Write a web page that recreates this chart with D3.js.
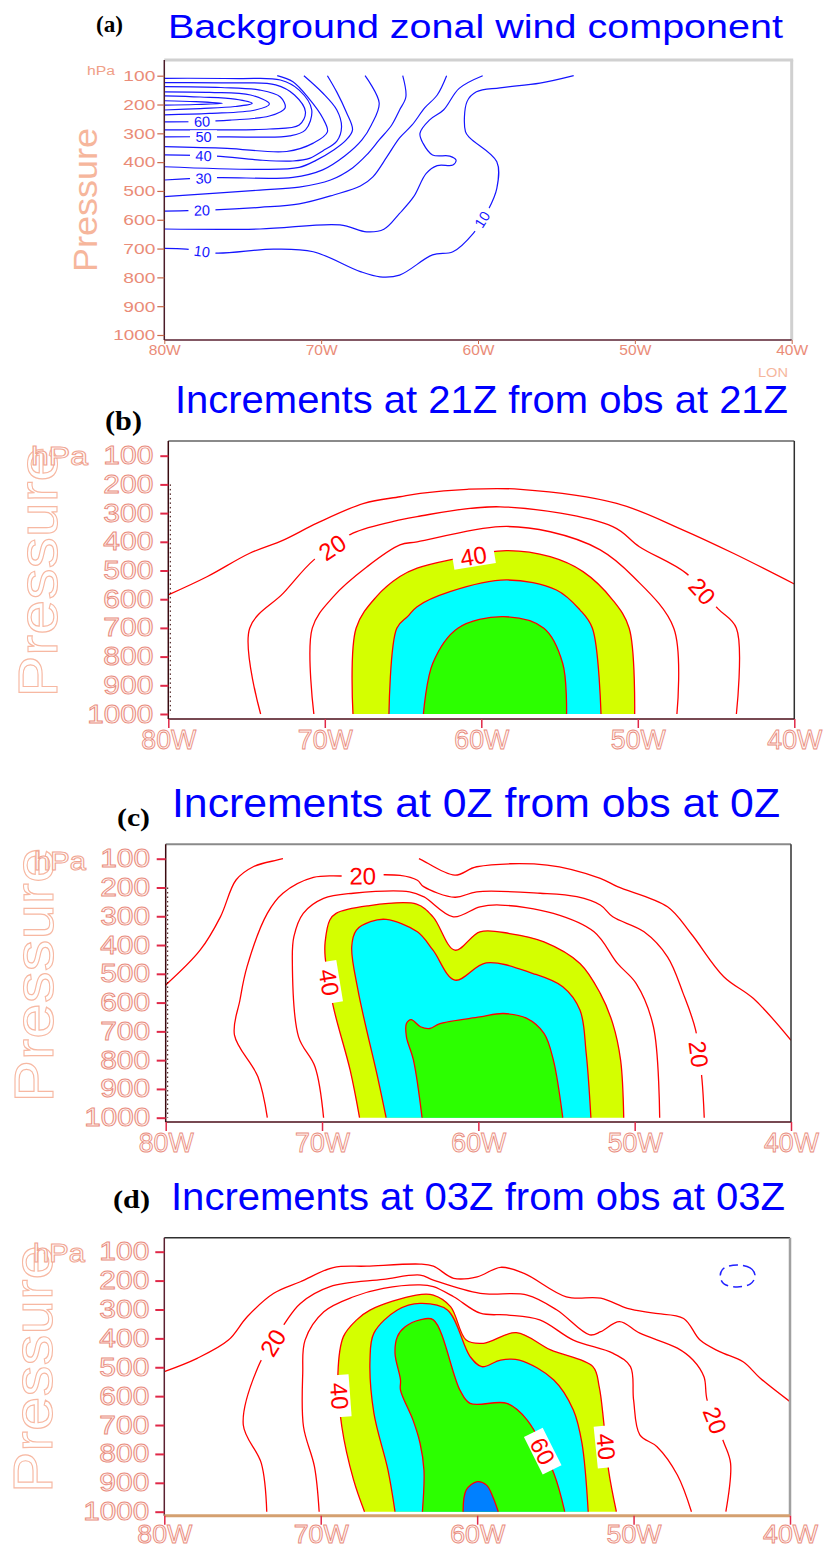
<!DOCTYPE html>
<html><head><meta charset="utf-8">
<script src="https://cdn.jsdelivr.net/npm/d3@7"></script>
<style>body{margin:0;background:#fff}svg{display:block}</style>
</head><body>
<svg id="chart" width="826" height="1549"></svg>
<script>
// ---------------- DATA ----------------
const lonTicks = [80, 70, 60, 50, 40];           // degrees West
const pTicks = [100, 200, 300, 400, 500, 600, 700, 800, 900, 1000]; // hPa
const titles = ["Background zonal wind component", "Increments at 21Z from obs at 21Z",
                "Increments at 0Z from obs at 0Z", "Increments at 03Z from obs at 03Z"];
const panelTags = ["(a)", "(b)", "(c)", "(d)"];
const fillLevels = [40, 50, 60, 70];

// (a) background zonal wind, contour lines [lonW, hPa]
const windA = [
  {v:75, pts:[[80,187],[78.0,190],[76.3,196],[78.0,200],[80,202]]},
  {v:70, pts:[[80,170],[77.7,174],[75.5,181],[74.4,196],[75.5,207],[77.7,214],[80,219]]},
  {v:65, pts:[[80,156],[77.1,158],[74.5,167],[73.3,198],[74.2,219],[77.1,231],[80,236]]},
  {v:60, pts:[[80,138],[76.4,141],[73.9,150],[72.6,174],[72.3,212],[73.3,240],[75.8,254],[77.7,259],[80,260]]},
  {v:55, pts:[[80,124],[75.8,125],[72.9,132],[71.7,167],[71.0,226],[71.4,271],[73.3,285],[76.4,288],[80,288]]},
  {v:50, pts:[[80,109],[75.2,110],[72.6,115],[71.4,150],[70.6,219],[71.0,288],[72.0,309],[74.5,313],[76.8,312],[80,312]]},
  {v:45, pts:[[72.8,100],[71.8,121],[70.8,178],[69.9,247],[69.6,295],[70.5,334],[72.2,363],[76.0,352],[80,346]]},
  {v:40, pts:[[71.1,100],[69.9,160],[69.0,219],[68.7,278],[69.0,327],[69.9,361],[70.7,386],[71.8,396],[73.9,393],[76.7,379],[80,375]]},
  {v:35, pts:[[69.6,100],[69.0,157],[68.4,226],[68.0,288],[68.4,323],[69.2,358],[70.3,393],[71.4,418],[73.9,425],[80,416]]},
  {v:30, pts:[[67.2,100],[66.3,195],[66.8,271],[67.4,323],[68.5,379],[69.9,427],[71.8,453],[76.7,454],[80,462]]},
  {v:25, pts:[[64.8,100],[64.6,174],[65.0,219],[65.5,271],[66.3,323],[67.1,375],[68.0,420],[69.4,462],[71.4,487],[73.9,497],[80,520]]},
  {v:20, pts:[[62.0,100],[62.6,167],[63.4,212],[64.2,271],[65.0,316],[65.8,381],[66.7,451],[67.5,483],[69.2,514],[71.4,545],[73.9,557],[76.8,566],[80,570]]},
  {v:15, pts:[[59.7,100],[61.2,144],[62.2,219],[63.1,254],[63.7,300],[63.5,335],[62.9,375],[61.8,379],[61.4,393],[61.6,410],[62.6,412],[63.3,439],[64.1,520],[65.0,578],[66.0,633],[67.1,642],[68.8,618],[73.9,632],[80,632]]},
  {v:10, pts:[[80,699],[78.6,702],[76.7,716],[73.05,702],[70.5,711],[67.5,780],[66.25,798],[65.0,792],[62.9,722],[61.6,711],[60.3,647],[59.35,566],[58.8,491],[58.8,399],[60.5,317],[60.8,294],[60.7,190],[60.1,156],[58.6,142],[56.05,126],[53.9,100]]}
];
const labelsA = [[60,77.6,258],[50,77.5,312],[40,77.5,378],[30,77.5,456],[20,77.6,568],[10,77.6,712],[10,59.6,604]];

// (b) increments at 21Z
const incB = [
  {v:10, pts:[[80,585],[77.5,521],[74.8,440],[72.65,394],[70.5,335],[67.5,266],[65.2,243],[63.9,231],[60.9,217],[57.5,217],[51.35,266],[47.1,359],[43.9,440],[40,547]]},
  {v:20, pts:[[74.1,1000],[74.8,701],[72.65,579],[70.7,463],[68.2,370],[65.2,324],[64.1,312],[58.8,278],[51.6,347],[49.9,417],[46.9,510],[44.9,632],[43.7,701],[43.7,1000]]},
  {v:30, pts:[[70.7,1000],[70.8,701],[69.45,591],[67.3,487],[65.2,411],[64.1,400],[58.8,347],[55.6,365],[52.4,428],[50.3,521],[47.7,701],[47.5,1000]]},
  {v:40, pts:[[68.2,1000],[68.0,701],[66.7,591],[65.2,521],[64.1,492],[62,463],[58.4,431],[55.6,452],[53.5,504],[51.6,603],[50.55,701],[50.2,1000]]},
  {v:50, pts:[[65.9,1000],[65.4,701],[64.7,660],[64.1,626],[62,574],[58.4,533],[55.2,568],[53.7,637],[52.9,701],[52.35,1000]]},
  {v:60, pts:[[63.7,1000],[63.1,823],[61.5,701],[58.6,661],[56.0,701],[54.8,823],[54.55,1000]]}
];
const labelsB = [[20,69.5,421],[40,60.5,450],[20,45.9,573]];

// (c) increments at 0Z
const incC = [
  {v:10, pts:[[80,539],[77.8,418],[76.5,302],[75.5,174],[74.4,128],[72.9,105],[72.5,100]]},
  {v:10, pts:[[63.8,100],[63.6,105],[61.5,157],[60.1,128],[55.6,122],[52.2,168],[51.1,197],[47.9,267],[46.4,360],[44.3,510],[42.4,586],[40,731]]},
  {v:20, pts:[[73.5,1000],[74.1,858],[75.6,713],[75.25,591],[74.8,476],[73.5,290],[72.5,220],[70.55,165],[68.6,160],[65.0,158],[63.9,175],[63.5,197],[61.5,234],[60.1,215],[56.05,220],[53.7,232],[52.2,261],[51.4,302],[49.4,354],[47.9,441],[46.9,568],[46.1,696],[45.7,864],[45.55,1000]]},
  {v:30, pts:[[69.9,1000],[70.45,823],[71.5,719],[71.9,452],[71.8,371],[71.2,290],[69.9,238],[68,220],[64.4,215],[63.5,232],[61.6,302],[59.9,267],[58.6,261],[55.2,290],[52.6,354],[51.1,464],[49.9,534],[48.8,684],[48.4,1000]]},
  {v:40, pts:[[67.6,1000],[68.2,835],[69.3,609],[69.8,441],[69.8,389],[69.5,313],[69.1,290],[67.1,264],[63.95,258],[62.9,302],[61.5,418],[59.9,354],[58,360],[55.8,389],[53.5,464],[52.2,568],[51.4,673],[50.9,800],[50.7,1000]]},
  {v:50, pts:[[65.9,1000],[66.4,870],[67.7,557],[68.1,406],[67.8,348],[66.9,319],[65.9,311],[63.9,354],[62.9,418],[61.5,522],[59.5,462],[56.5,499],[54.6,545],[53.5,626],[53.1,777],[52.8,1000]]},
  {v:60, pts:[[63.6,1000],[64.15,800],[64.6,719],[64.6,673],[64.3,659],[63.7,684],[63.1,690],[62.45,673],[59.9,650],[58.4,638],[56.9,655],[55.8,707],[55.2,800],[54.6,1000]]}
];
const labelsC = [[20,67.4,160],[40,69.6,530],[20,46.0,780]];

// (d) increments at 03Z
const incD = [
  {v:10, pts:[[80,515],[77.9,469],[75.9,406],[74.7,325],[73,244],[71.3,204],[69.2,155],[67.05,150],[63.65,143],[62.8,150],[61.5,192],[60,187],[58.5,154],[57,175],[54.3,256],[52.1,261],[50.4,296],[48.7,313],[46.8,331],[45.75,406],[44.5,446],[43,481],[41.9,538],[40,619]]},
  {v:20, pts:[[73.45,1000],[73.8,832],[74.95,700],[74,498],[72.3,348],[71.3,279],[69.4,221],[66,196],[63.65,181],[62.8,198],[59.8,244],[56.8,250],[54.9,302],[52.8,388],[52.1,377],[50.9,342],[49.6,382],[47.2,434],[46.2,475],[45.5,533],[45.3,613],[44.25,758],[43.8,832],[44.1,1000]]},
  {v:30, pts:[[70.1,1000],[70.4,844],[71.1,706],[71.15,521],[71,406],[69.8,308],[67.9,256],[66,227],[63.65,215],[62.8,221],[61.5,256],[59.8,313],[58.1,319],[56,336],[53.85,406],[51.3,452],[50.2,498],[50,613],[49.6,734],[48.5,775],[47.2,873],[46.3,1000]]},
  {v:40, pts:[[67.2,1000],[67.9,890],[68.65,706],[68.9,521],[68.55,394],[67.7,336],[66.85,302],[63.9,250],[62.8,250],[61.7,290],[60.7,406],[59.6,417],[57.5,380],[55.3,440],[52.6,498],[52.2,567],[51.9,694],[51.6,856],[51.1,1000]]},
  {v:50, pts:[[65.25,1000],[65.7,856],[66.6,659],[66.85,475],[66.6,382],[65.1,302],[63.65,279],[61.9,302],[60.45,463],[59.7,498],[58.5,475],[57.3,475],[55.1,544],[53.85,648],[53.3,763],[52.9,1000]]},
  {v:60, pts:[[63.5,1000],[63.4,856],[63.65,763],[64.1,683],[64.9,579],[64.9,544],[65.25,452],[65.1,394],[64.6,360],[63.65,336],[62.8,336],[61.1,579],[60.45,625],[58.1,625],[56.8,683],[55.1,867],[54.4,1000]]},
  {v:70, pts:[[60.9,1000],[60.7,925],[60,896],[59.4,908],[59,948],[58.65,1000]]}
];
const negD = [[43.38,146],[42.55,156],[42.23,184],[42.55,212],[43.38,222],[44.2,212],[44.46,184],[44.2,156]];
const labelsD = [[20,72.9,420],[40,68.9,600],[60,55.8,790],[40,51.8,775],[20,45.1,690]];

// ---------------- DRAWING ----------------
const svg = d3.select("#chart");
const SANS = "'Liberation Sans', Arial, Helvetica, sans-serif";
const SERIF = "'Liberation Serif', 'Times New Roman', serif";
const fillColor = {40:"#d4ff00", 50:"#00ffff", 60:"#2cff00", 70:"#0080ff"};

const panels = [
  {data:windA, labels:labelsA, small:true, x0:164.3, x1:791.7, top:60, bottom:340, y100:75.7, y1000:335,
   title:{x:168, y:38, w:615, fs:34}, tag:{x:96, y:32, w:27, fs:24},
   pres:{x:97, y:200, w:144, fs:33}, hpa:{x:87, y:75, w:28, fs:12},
   ytick:{size:7, pad:2, fs:15, w3:32, w4:42}, xlab:{dy:15, fs:15, w:32}},
  {data:incB, labels:labelsB, x0:168.3, x1:794.3, top:441, bottom:719, y100:455.7, y1000:714,
   title:{x:175, y:413, w:613, fs:39}, tag:{x:105, y:430, w:37, fs:28},
   pres:{x:57, y:572, w:251, fs:56}, hpa:{x:31, y:465, w:57, fs:25},
   ytick:{size:8, pad:7, fs:25, w3:50, w4:66}, xlab:{dy:30, fs:27, w:55}, dots:true},
  {data:incC, labels:labelsC, x0:165.7, x1:791, top:844.3, bottom:1122, y100:858.7, y1000:1117.7,
   title:{x:172, y:817, w:608, fs:40}, tag:{x:117, y:826, w:33, fs:26},
   pres:{x:53, y:975, w:255, fs:56}, hpa:{x:34, y:870, w:52, fs:25},
   ytick:{size:9, pad:6.5, fs:25, w3:50, w4:66}, xlab:{dy:30, fs:27, w:55}, dots:true},
  {data:incD, labels:labelsD, neg:negD, x0:164.3, x1:790, top:1237.7, bottom:1515.7, y100:1251.7, y1000:1511.7,
   title:{x:171, y:1210, w:614, fs:38}, tag:{x:113, y:1208, w:37, fs:26},
   pres:{x:52, y:1369, w:248, fs:56}, hpa:{x:33, y:1262, w:52, fs:25},
   ytick:{size:9, pad:6, fs:25, w3:50, w4:66}, xlab:{dy:27.5, fs:25, w:55}}
];

function nearestOnLine(px, tx, ty) {
  let best = {d:Infinity};
  for (let i = 0; i < px.length - 1; i++) {
    const [ax, ay] = px[i], [bx, by] = px[i+1];
    const dx = bx - ax, dy = by - ay, L = dx*dx + dy*dy;
    let t = L ? ((tx-ax)*dx + (ty-ay)*dy) / L : 0;
    t = Math.max(0, Math.min(1, t));
    const qx = ax + t*dx, qy = ay + t*dy, dd = (qx-tx)**2 + (qy-ty)**2;
    if (dd < best.d) best = {d:dd, x:qx, y:qy, a:Math.atan2(dy, dx) * 180 / Math.PI};
  }
  let a = best.a; if (a > 90) a -= 180; if (a <= -90) a += 180;
  best.a = a;
  return best;
}

panels.forEach((P, i) => {
  const x = d3.scaleLinear().domain([80, 40]).range([P.x0, P.x1]);
  const y = d3.scaleLinear().domain([100, 1000]).range([P.y100, P.y1000]);
  const g = svg.append("g");
  const clipId = "clip" + i;
  svg.append("defs").append("clipPath").attr("id", clipId)
    .append("rect").attr("x", P.x0).attr("y", P.top).attr("width", P.x1 - P.x0).attr("height", P.bottom - P.top);
  const plot = g.append("g").attr("clip-path", `url(#${clipId})`);
  const line = d3.line().x(d => x(d[0])).y(d => y(d[1])).curve(d3.curveCatmullRom.alpha(0.5));

  // shaded areas
  if (!P.small) {
    fillLevels.forEach(lv => {
      P.data.filter(c => c.v === lv).forEach(c => {
        plot.append("path").attr("d", line(c.pts) + "Z").attr("fill", fillColor[lv]).attr("stroke", "none");
      });
    });
  }
  // contour lines
  const lineColor = P.small ? "#1515ff" : "#ff0000";
  P.data.forEach(c => {
    plot.append("path").attr("d", line(c.pts)).attr("fill", "none")
      .attr("stroke", lineColor).attr("stroke-width", P.small ? 1.2 : 1.3).attr("stroke-linejoin", "round");
  });
  if (P.neg) {
    plot.append("path").attr("d", d3.line().x(d => x(d[0])).y(d => y(d[1])).curve(d3.curveCardinalClosed)(P.neg))
      .attr("fill", "none").attr("stroke", "#2222ff").attr("stroke-width", 1.5).attr("stroke-dasharray", "9,5");
  }
  // contour labels
  P.labels.forEach(([lv, lon, p]) => {
    const cands = P.data.filter(c => c.v === lv);
    let best = {d:Infinity};
    cands.forEach(c => {
      const r = nearestOnLine(c.pts.map(d => [x(d[0]), y(d[1])]), x(lon), y(p));
      if (r.d < best.d) best = r;
    });
    const lg = plot.append("g").attr("transform", `translate(${best.x},${best.y}) rotate(${best.a})`);
    const fs = P.small ? 14.5 : 24;
    const bw = P.small ? 27 : 42, bh = P.small ? 13 : 21;
    lg.append("rect").attr("x", -bw/2).attr("y", -bh/2).attr("width", bw).attr("height", bh).attr("fill", "#fff");
    lg.append("text").text(lv).attr("text-anchor", "middle").attr("dy", "0.36em")
      .attr("font-family", SANS).attr("font-size", fs).attr("fill", lineColor);
  });

  // frame
  const fr = (x1, y1, x2, y2, col, w) => g.append("line").attr("x1", x1).attr("y1", y1).attr("x2", x2).attr("y2", y2)
      .attr("stroke", col).attr("stroke-width", w);
  if (i === 0) {
    fr(P.x0, P.top, P.x1 + 1.5, P.top, "#d0d0d0", 3);
    fr(P.x1, P.top, P.x1, P.bottom, "#d0d0d0", 3);
    fr(P.x0, P.top, P.x0, P.bottom, "#4a1c28", 1.5);
    fr(P.x0, P.bottom, P.x1, P.bottom, "#5a2030", 1.5);
  } else if (i < 3) {
    fr(P.x0, P.top, P.x1, P.top, "#8a8a8a", 2);
    fr(P.x1, P.top, P.x1, P.bottom, "#303030", 1.5);
    fr(P.x0, P.top, P.x0, P.bottom, "#3a0a10", 1.5);
    fr(P.x0, P.bottom, P.x1, P.bottom, "#4a0c18", 1.5);
  } else {
    fr(P.x0, P.top, P.x1, P.top, "#303030", 1.5);
    fr(P.x1, P.top, P.x1, P.bottom, "#a0a0a0", 2.5);
    fr(P.x0, P.top, P.x0, P.bottom, "#5a2030", 1.5);
    fr(P.x0, P.bottom, P.x1, P.bottom, "#d4a070", 3);
  }
  if (P.dots) {
    fr(P.x0 + 2, y(200), P.x0 + 2, y(1000), "#300", 1).attr("stroke-dasharray", "1.5,3");
  }

  // y axis
  const tickCol = P.small ? "#c86848" : "#e02848";
  const yAx = g.append("g").attr("transform", `translate(${P.x0},0)`)
    .call(d3.axisLeft(y).tickValues(pTicks).tickFormat(d => String(d)).tickSize(P.ytick.size).tickPadding(P.ytick.pad));
  yAx.select(".domain").remove();
  yAx.selectAll(".tick line").attr("stroke", tickCol).attr("stroke-width", P.small ? 1.2 : 2);
  yAx.selectAll(".tick text").attr("font-family", SANS).attr("font-size", P.ytick.fs)
    .attr("textLength", d => String(d).length > 3 ? P.ytick.w4 : P.ytick.w3).attr("lengthAdjust", "spacingAndGlyphs");

  // x axis
  const xAx = g.append("g").attr("transform", `translate(0,${P.bottom})`)
    .call(d3.axisBottom(x).tickValues(lonTicks).tickFormat(d => d + "W").tickSize(P.small ? 4 : 9));
  xAx.select(".domain").remove();
  xAx.selectAll(".tick line").attr("stroke", tickCol).attr("stroke-width", P.small ? 1 : 1.5);
  xAx.selectAll(".tick text").attr("y", P.xlab.dy).attr("dy", 0).attr("font-family", SANS)
    .attr("font-size", P.xlab.fs).attr("textLength", P.xlab.w).attr("lengthAdjust", "spacingAndGlyphs");

  const styleTick = sel => {
    if (P.small) sel.attr("fill", "#ea8c78").attr("stroke", "none");
    else sel.attr("fill", "#fff6f2").attr("stroke", "#e98c7e").attr("stroke-width", 0.9);
  };
  styleTick(yAx.selectAll(".tick text"));
  styleTick(xAx.selectAll(".tick text"));

  // Pressure label
  const pr = g.append("text").text("Pressure").attr("transform", `translate(${P.pres.x},${P.pres.y}) rotate(-90)`)
    .attr("text-anchor", "middle").attr("font-family", SANS).attr("font-size", P.pres.fs)
    .attr("textLength", P.pres.w).attr("lengthAdjust", "spacingAndGlyphs");
  if (P.small) pr.attr("fill", "#f6b69c");
  else pr.attr("fill", "#fff").attr("stroke", "#f7b8a2").attr("stroke-width", 1.1);
  const hp = g.append("text").text("hPa").attr("x", P.hpa.x).attr("y", P.hpa.y).attr("font-family", SANS)
    .attr("font-size", P.hpa.fs).attr("textLength", P.hpa.w).attr("lengthAdjust", "spacingAndGlyphs");
  if (P.small) hp.attr("fill", "#f0a088");
  else hp.attr("fill", "#fff").attr("stroke", "#f0a490").attr("stroke-width", 1);
  if (P.small) {
    g.append("text").text("LON").attr("x", 758).attr("y", 377).attr("font-family", SANS).attr("font-size", 13)
      .attr("textLength", 30).attr("lengthAdjust", "spacingAndGlyphs").attr("fill", "#f6b69c");
  }

  // title and tag
  g.append("text").text(titles[i]).attr("x", P.title.x).attr("y", P.title.y).attr("font-family", SANS)
    .attr("font-size", P.title.fs).attr("fill", "#0000ff")
    .attr("textLength", P.title.w).attr("lengthAdjust", "spacingAndGlyphs");
  g.append("text").text(panelTags[i]).attr("x", P.tag.x).attr("y", P.tag.y).attr("font-family", SERIF)
    .attr("font-weight", "bold").attr("font-size", P.tag.fs).attr("fill", "#000")
    .attr("textLength", P.tag.w).attr("lengthAdjust", "spacingAndGlyphs");
});
</script>
</body></html>
